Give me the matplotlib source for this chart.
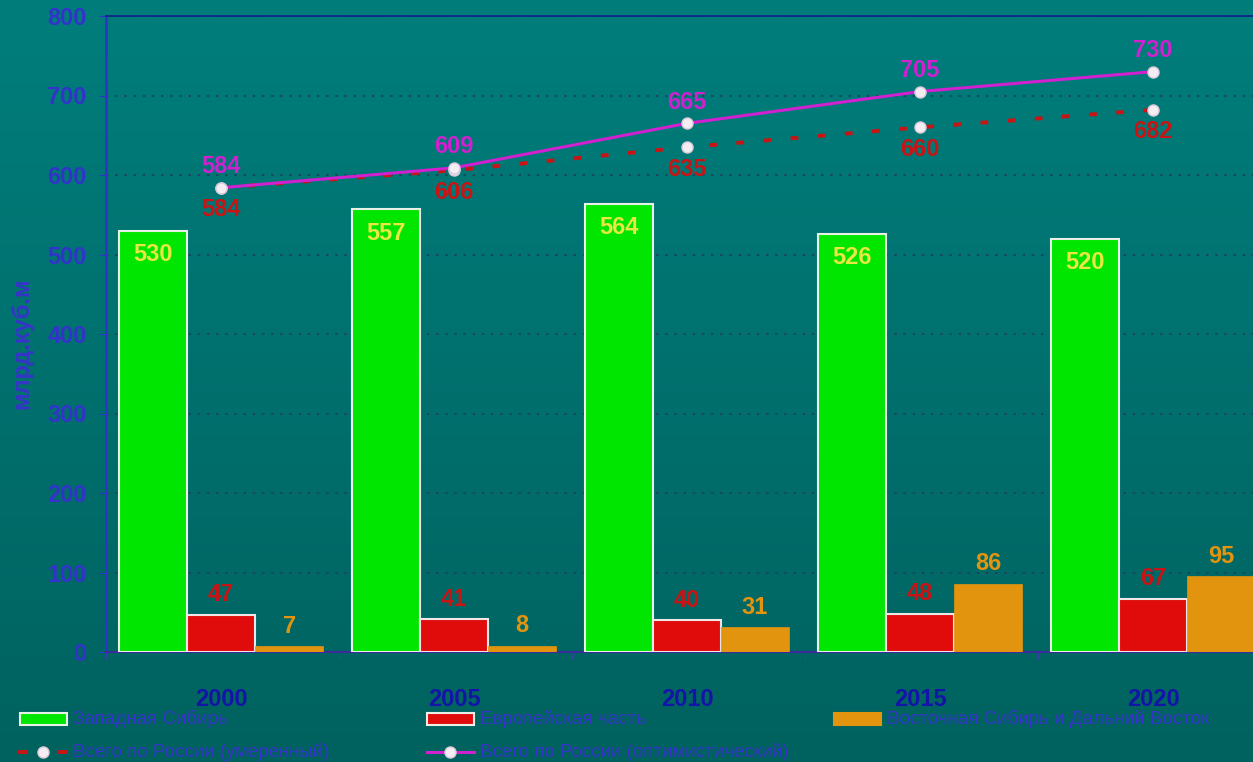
import numpy as np
import matplotlib
matplotlib.use("Agg")
import matplotlib.pyplot as plt
from matplotlib.patches import Rectangle
from matplotlib.lines import Line2D

plt.rcParams['font.family'] = ['Liberation Sans Narrow', 'Liberation Sans', 'DejaVu Sans']

years = ["2000", "2005", "2010", "2015", "2020"]
west_siberia = [530, 557, 564, 526, 520]
european = [47, 41, 40, 48, 67]
east_siberia = [7, 8, 31, 86, 95]
total_moderate = [584, 606, 635, 660, 682]
total_optimistic = [584, 609, 665, 705, 730]

series_names = ["Западная Сибирь", "Европейская часть", "Восточная Сибирь и Дальний Восток",
                "Всего по России (умеренный)", "Всего по России (оптимистический)"]

GREEN = "#00e600"
RED = "#e00c0c"
ORANGE = "#e3940e"
MAGENTA = "#d020d0"
DRED = "#c81414"
BLUE = "#3333cc"

W, H = 1253, 762
fig = plt.figure(figsize=(W / 100, H / 100), dpi=100)

# gradient background
bg = fig.add_axes([0, 0, 1, 1], zorder=-10)
grad = np.linspace(0, 1, 256)[:, None]
cmap = matplotlib.colors.LinearSegmentedColormap.from_list("bg", ["#007e7c", "#00625f"])
bg.imshow(grad, aspect="auto", cmap=cmap, extent=[0, 1, 0, 1])
bg.axis("off")


def px(x, y):
    return x / W, 1 - y / H


left, right, top, bottom = 106, 1271, 16, 652
ax = fig.add_axes([left / W, 1 - bottom / H, (right - left) / W, (bottom - top) / H])
ax.patch.set_alpha(0)

x = np.arange(len(years))
w = 68 / 233

ax.bar(x - w, west_siberia, w, color=GREEN, edgecolor="#e8f0e8", linewidth=1.5, zorder=3)
ax.bar(x, european, w, color=RED, edgecolor="#f0e8e8", linewidth=1.5, zorder=3)
ax.bar(x + w, east_siberia, w, color=ORANGE, edgecolor=ORANGE, linewidth=0.5, zorder=3)

ax.plot(x, total_moderate, color=DRED, lw=2.8, linestyle=(0, (2, 5)), zorder=4)
ax.plot(x, total_optimistic, color=MAGENTA, lw=2.2, zorder=4)
for vals in (total_moderate, total_optimistic):
    ax.plot(x, vals, linestyle="none", marker="o", ms=8, mfc="#f4eef4", mec="#d8c8d8", mew=1, zorder=5)

lbl = dict(fontsize=17, fontweight="bold", ha="center", va="center",
           textcoords="offset pixels", zorder=6)
for i in range(len(years)):
    ax.annotate(str(west_siberia[i]), (x[i] - w, west_siberia[i]), xytext=(0, -24), color="#e8e840", **lbl)
    ax.annotate(str(european[i]), (x[i], european[i]), xytext=(0, 20), color=DRED, **lbl)
    ax.annotate(str(east_siberia[i]), (x[i] + w, east_siberia[i]), xytext=(0, 20), color=ORANGE, **lbl)
    ax.annotate(str(total_optimistic[i]), (x[i], total_optimistic[i]), xytext=(0, 21), color=MAGENTA, **lbl)
    ax.annotate(str(total_moderate[i]), (x[i], total_moderate[i]), xytext=(0, -22), color=DRED, **lbl)

ax.set_xlim(-0.494, len(years) - 0.494)
ax.set_ylim(0, 800)
ax.set_yticks(range(0, 801, 100))
ax.yaxis.grid(True, color="#20405a", linestyle=(0, (1.5, 4)), linewidth=1.2, zorder=0)
ax.set_axisbelow(True)

ax.set_xticks(np.arange(len(years) + 1) - 0.494)
ax.set_xticklabels([])
ax.set_xticks(x, minor=True)
ax.set_xticklabels(years, minor=True)
ax.tick_params(axis="x", which="major", length=5, color="#4040b0", direction="out")
ax.tick_params(axis="x", which="minor", length=0, pad=26, labelsize=17, labelcolor="#1414a8")
for t in ax.get_xticklabels(minor=True):
    t.set_fontweight("bold")
ax.tick_params(axis="y", length=5, color=BLUE, pad=9, labelsize=17, labelcolor=BLUE)
for t in ax.get_yticklabels():
    t.set_fontweight("bold")

ax.spines["left"].set_color(BLUE)
ax.spines["left"].set_linewidth(2)
ax.spines["bottom"].set_color("#3a2a9a")
ax.spines["bottom"].set_linewidth(1.5)
ax.spines["top"].set_color("#10208a")
ax.spines["top"].set_linewidth(1.2)
ax.spines["right"].set_visible(False)

fig.text(*px(22, 343), "млрд.куб.м", rotation=90, ha="center", va="center",
         fontsize=17, fontweight="bold", color="#3535c8")

# legend, drawn by hand to match the original layout
row1, row2 = 719, 752
cols = [20, 427, 834]
for c, name, col in zip(cols, series_names[:3], [GREEN, RED, ORANGE]):
    ec = "#e8f0e8" if col != ORANGE else ORANGE
    fig.add_artist(Rectangle(px(c, row1 + 6), 47 / W, 12 / H, transform=fig.transFigure,
                             facecolor=col, edgecolor=ec, linewidth=1.5))
    fig.text(*px(c + 53, row1), name, ha="left", va="center", fontsize=13.5, color="#3535c8")

yl = 1 - row2 / H
c = cols[0]
for a, b in ((c, c + 6), (c + 40, c + 46)):
    fig.add_artist(Line2D([a / W, b / W], [yl, yl], transform=fig.transFigure, color=DRED, lw=2.8))
c = cols[1]
fig.add_artist(Line2D([c / W, (c + 47) / W], [yl, yl], transform=fig.transFigure, color=MAGENTA, lw=2.2))
for c, name in zip(cols[:2], series_names[3:]):
    fig.add_artist(Line2D([(c + 23) / W], [yl], transform=fig.transFigure, linestyle="none",
                          marker="o", ms=8, mfc="#f4eef4", mec="#d8c8d8"))
    fig.text(*px(c + 53, row2), name, ha="left", va="center", fontsize=13.5, color="#3535c8")

fig.savefig("out.png", dpi=100)
